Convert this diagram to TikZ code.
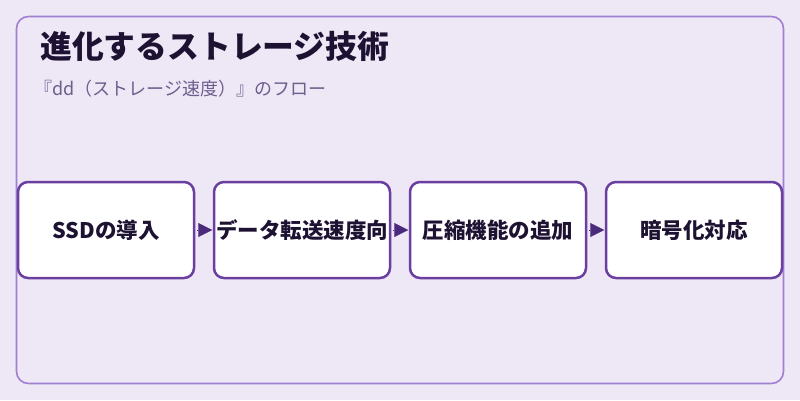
\documentclass[tikz,border=0pt]{standalone}
\usepackage{fontspec}
\setmainfont{Noto Sans CJK JP}
\usetikzlibrary{arrows.meta}
\definecolor{bgc}{HTML}{EDE7F6}
\definecolor{panelline}{HTML}{9E7FD0}
\definecolor{boxline}{HTML}{6A3FA0}
\definecolor{arrowc}{HTML}{4B2A7E}
\definecolor{titlec}{HTML}{1E1233}
\definecolor{subc}{HTML}{6E5E8C}
\tikzset{
  stepbox/.style={draw=boxline, line width=2.5pt, fill=white, rounded corners=10pt,
    minimum width=176pt, minimum height=96pt, inner sep=0pt, font=\fontsize{21.5}{26}\selectfont\bfseries, text=titlec},
  flowarrow/.style={-{Triangle[length=14pt,width=14pt]}, draw=arrowc, fill=arrowc, line width=0.1pt, shorten >=0.5pt, shorten <=1.5pt}
}
\begin{document}
\begin{tikzpicture}[x=1pt,y=-1pt]
\path[fill=bgc] (0,0) rectangle (800,400);
\useasboundingbox (0,0) rectangle (800,400);
\draw[panelline, line width=1.6pt, fill=bgc, rounded corners=12pt] (16.5,16.5) rectangle (783.5,383.5);
\node[anchor=base west, font=\fontsize{31.8}{36}\selectfont\bfseries, text=titlec, inner sep=0pt] (title) at (40,58) {進化するストレージ技術};
\node[anchor=base west, font=\fontsize{18}{21}\selectfont, text=subc, inner sep=0pt] (sub) at (34,95) {『dd（ストレージ速度）』のフロー};
\node[stepbox] (b1) at (106,230) {SSDの導入};
\node[stepbox] (b2) at (302,230) {データ転送速度向};
\node[stepbox] (b3) at (498,230) {圧縮機能の追加};
\node[stepbox] (b4) at (694,230) {暗号化対応};
\draw[flowarrow] (b1.east) -- (b2.west);
\draw[flowarrow] (b2.east) -- (b3.west);
\draw[flowarrow] (b3.east) -- (b4.west);
\end{tikzpicture}
\end{document}
